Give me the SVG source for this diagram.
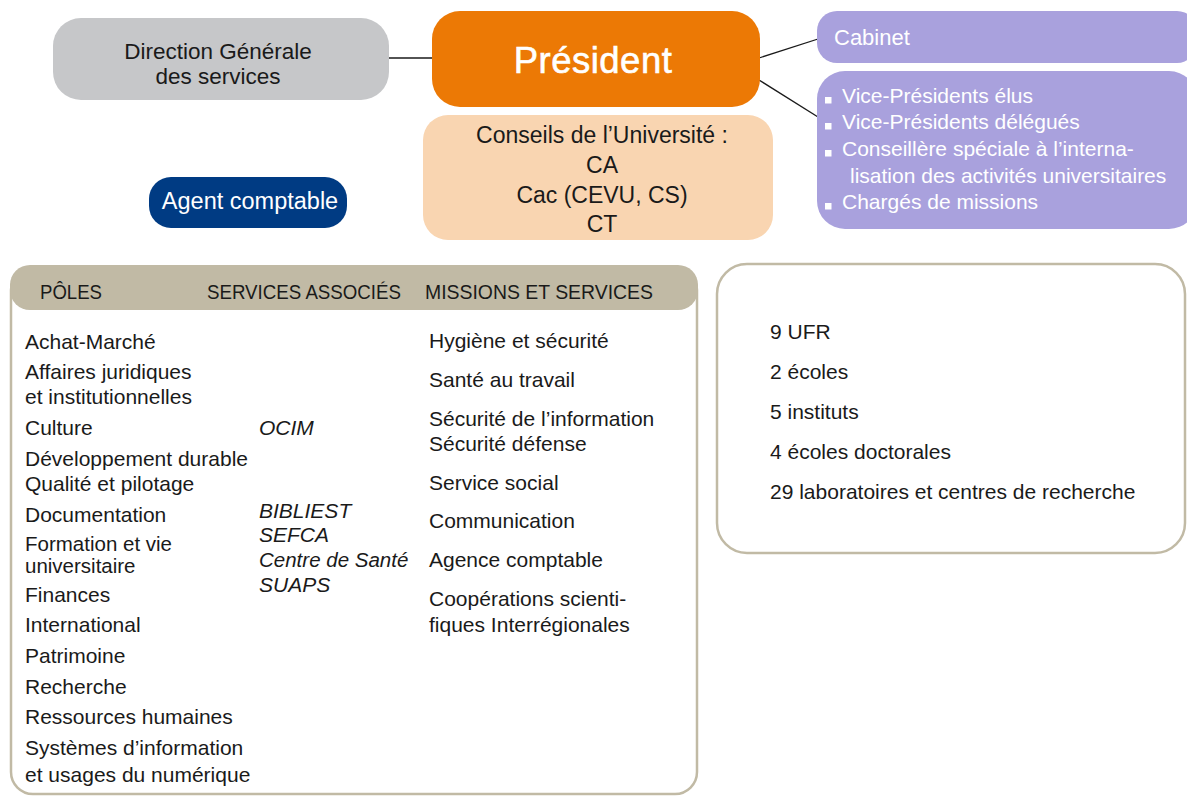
<svg xmlns="http://www.w3.org/2000/svg" width="1187" height="796" viewBox="0 0 1187 796">
<style>
text{font-family:"Liberation Sans",Arial,sans-serif;fill:#1a1a1a;font-size:21px}
.w{fill:#ffffff}
.c{text-anchor:middle}
.it{font-style:italic}
.hd{font-size:21px}
.conn{stroke:#1a1a1a;stroke-width:1.3;fill:none}
.frame{fill:#fff;stroke:#c1baa5;stroke-width:2.5}
</style>
<rect width="1187" height="796" fill="#fff"/>
<g id="connectors">
<line class="conn" x1="389" y1="58" x2="433" y2="58"/>
<line class="conn" x1="759" y1="58" x2="818" y2="39"/>
<line class="conn" x1="759" y1="80" x2="818" y2="117"/>
</g>
<g id="dgs">
<rect x="53" y="18" width="336" height="82" rx="28" fill="#c6c7c9"/>
<text class="c" x="218" y="59" style="font-size:22.5px">Direction Générale</text>
<text class="c" x="218" y="84" style="font-size:22.5px">des services</text>
</g>
<g id="president">
<rect x="432" y="11" width="328" height="96" rx="28" fill="#ec7905"/>
<text class="c w" x="593" y="73" style="font-size:36.5px;stroke:#fff;stroke-width:0.6;letter-spacing:0.5px">Président</text>
</g>
<g id="conseils">
<rect x="423" y="115" width="350" height="125" rx="25" fill="#f9d5b1"/>
<text class="c" x="602" y="143" style="font-size:23px">Conseils de l’Université :</text>
<text class="c" x="602" y="173" style="font-size:23px">CA</text>
<text class="c" x="602" y="203" style="font-size:23px">Cac (CEVU, CS)</text>
<text class="c" x="602" y="232" style="font-size:23px">CT</text>
</g>
<g id="agent">
<rect x="149" y="177" width="198" height="51" rx="22" fill="#003b83"/>
<text class="c w" x="250" y="209" style="font-size:23.5px">Agent comptable</text>
</g>
<g id="cabinet">
<rect x="817" y="11" width="380" height="52" rx="20" fill="#a9a1dd"/>
<text class="w" x="834" y="45" style="font-size:22px">Cabinet</text>
</g>
<g id="vp">
<rect x="817" y="71" width="380" height="158" rx="28" fill="#a9a1dd"/>
<g fill="#fff">
<rect x="825" y="97" width="6.5" height="6.5"/>
<rect x="825" y="123" width="6.5" height="6.5"/>
<rect x="825" y="150" width="6.5" height="6.5"/>
<rect x="825" y="203" width="6.5" height="6.5"/>
</g>
<g style="font-size:22.5px">
<text class="w" x="842" y="103">Vice-Présidents élus</text>
<text class="w" x="842" y="129">Vice-Présidents délégués</text>
<text class="w" x="842" y="156">Conseillère spéciale à l’interna-</text>
<text class="w" x="850" y="183">lisation des activités universitaires</text>
<text class="w" x="842" y="209">Chargés de missions</text>
</g>
</g>
<g id="services">
<rect class="frame" x="11" y="268" width="686" height="526" rx="22"/>
<rect x="10" y="265" width="688" height="45" rx="20" fill="#c1baa5"/>
<text class="hd" x="40" y="299" textLength="62" lengthAdjust="spacingAndGlyphs">PÔLES</text>
<text class="hd" x="207" y="299" textLength="194" lengthAdjust="spacingAndGlyphs">SERVICES ASSOCIÉS</text>
<text class="hd" x="425" y="299" textLength="228" lengthAdjust="spacingAndGlyphs">MISSIONS ET SERVICES</text>
<g id="poles">
<text x="25" y="349">Achat-Marché</text>
<text x="25" y="379">Affaires juridiques</text>
<text x="25" y="404">et institutionnelles</text>
<text x="25" y="435">Culture</text>
<text x="25" y="466">Développement durable</text>
<text x="25" y="491">Qualité et pilotage</text>
<text x="25" y="522">Documentation</text>
<text x="25" y="551" style="font-size:20.5px">Formation et vie</text>
<text x="25" y="573" style="font-size:20.5px">universitaire</text>
<text x="25" y="602">Finances</text>
<text x="25" y="632">International</text>
<text x="25" y="663">Patrimoine</text>
<text x="25" y="694">Recherche</text>
<text x="25" y="724">Ressources humaines</text>
<text x="25" y="755">Systèmes d’information</text>
<text x="25" y="782">et usages du numérique</text>
</g>
<g id="associes">
<text class="it" x="259" y="435">OCIM</text>
<text class="it" x="259" y="518">BIBLIEST</text>
<text class="it" x="259" y="542">SEFCA</text>
<text class="it" x="259" y="567" style="font-size:20.5px">Centre de Santé</text>
<text class="it" x="259" y="592">SUAPS</text>
</g>
<g id="missions">
<text x="429" y="348">Hygiène et sécurité</text>
<text x="429" y="387">Santé au travail</text>
<text x="429" y="426">Sécurité de l’information</text>
<text x="429" y="451">Sécurité défense</text>
<text x="429" y="490">Service social</text>
<text x="429" y="528">Communication</text>
<text x="429" y="567">Agence comptable</text>
<text x="429" y="606">Coopérations scienti-</text>
<text x="429" y="632">fiques Interrégionales</text>
</g>
</g>
<g id="composantes">
<rect class="frame" x="717" y="264" width="468" height="289" rx="30"/>
<text x="770" y="339">9 UFR</text>
<text x="770" y="379">2 écoles</text>
<text x="770" y="419">5 instituts</text>
<text x="770" y="459">4 écoles doctorales</text>
<text x="770" y="499">29 laboratoires et centres de recherche</text>
</g>
</svg>
